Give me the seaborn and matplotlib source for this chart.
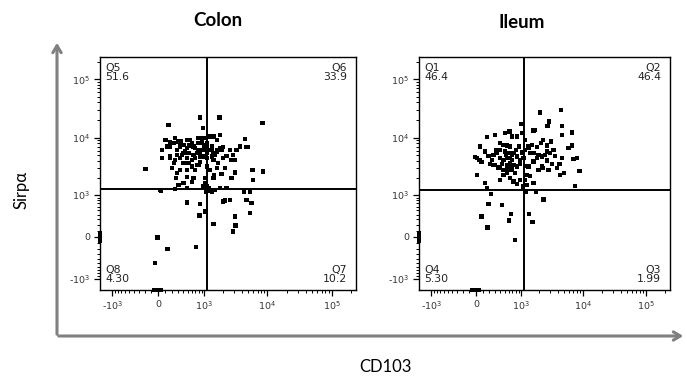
import numpy as np
import pandas as pd
import matplotlib
matplotlib.use("Agg")
import matplotlib.pyplot as plt
from matplotlib.patches import FancyArrowPatch
from matplotlib.ticker import FixedLocator, FixedFormatter
import seaborn as sns

# ---------------- data ----------------
colon_cd103 = [848,1760,8350,150,940,-192,8600,5850,6000,5300,
               3100,2920,3190,1410,825,1040,485,848,725,-10,
               135,-53,4330,5300,4720,5640,2160,2590,2030,28,
               258,1100,1330,1800,2300,1030,1410,1450,2750,1910,
               3100,2160,1600,1245,1100,794,693,485,346,275,
               412,485,605,649,316,287,203,240,176,287,
               412,485,605,745,848,1100,1330,1500,1690,2030,
               2300,2920,3290,3710,4430,4720,4990,2590,2030,1800,
               1600,1330,1170,1100,965,848,794,693,649,605,
               561,485,412,346,287,176,126,53,53,176,
               258,346,412,521,649,745,794,794,965,1100,
               1245,1410,1800,1600,1330,965,1100,848,693,605,
               521,447,380,316,258,229,101,176,905,990,
               630,540,485,360,1410,1600,1910,2750,3100,1410,
               965,1170,40,485,1030,1170,1330,1500,1065]
colon_sirpa = [22100,22100,17700,16600,14500,2900,2620,2800,1870,432,
               355,84,185,213,375,470,720,675,-167,-11,
               -196,-490,1160,1160,812,700,790,812,760,1245,
               1280,1420,1245,1330,1330,2000,2000,2290,2000,2380,
               2520,2990,2990,2800,3190,3410,2800,2800,2800,2000,
               1640,2090,1700,2000,1530,2450,2990,3650,4740,5070,
               5400,4440,4160,3410,3770,4440,4740,5070,3650,4440,
               4870,5070,6180,7040,9400,6850,6850,6180,6850,6600,
               5770,6180,6180,6850,6180,5770,6180,6600,7040,8050,
               9170,9170,7530,7040,6180,7040,7040,6180,4440,4440,
               4160,4440,3650,3650,5070,5400,8050,9800,9800,8050,
               10400,10400,11200,9170,7040,4740,5400,4740,4440,3190,
               5400,5770,5070,8570,9800,8050,9170,8200,8200,7300,
               7040,7300,6600,8570,4160,6180,6180,4160,4160,5400,
               1420,1330,1210,1330,1640,1210,1160,1245,1160]

ileum_cd103 = [2050,4400,2860,2690,1700,990,1018,618,506,298,
               157,56,131,-18,7,46,80,7,131,157,
               222,184,429,80,168,608,665,1355,1540,786,
               2320,1770,1210,3800,4300,4980,7450,8720,7920,7010,
               6600,5850,4570,6600,4570,1596,2260,2100,2620,3040,
               3360,1810,1500,1320,1160,1018,1088,953,837,685,
               590,506,394,328,268,239,298,380,429,466,
               548,685,734,837,953,1160,1320,1596,1810,2180,
               2470,2620,3160,3570,4200,4570,2790,2260,1924,1410,
               1160,1238,1060,837,734,636,548,466,360,268,
               211,394,530,618,734,817,905,636,548,466,
               394,328,184,685,837,1160,1320,1410,1596,1924,
               2620,2970,548,636,590,685,786,466,394,953,
               1238,1596,2180,590,636,685,548]
ileum_sirpa = [26900,30000,18800,15900,13600,17200,11900,12700,11900,11200,
               10200,7040,5770,4600,4440,4160,3770,2290,1640,1330,
               1050,675,653,355,150,275,417,405,245,-47,
               830,1160,1160,2990,2290,2450,1460,2690,4440,4290,
               7300,6600,11200,12300,15900,13300,9170,8050,7300,8570,
               6180,6850,7530,6600,6180,5550,4440,4160,4740,5070,
               5400,5770,6180,5400,5070,4160,3410,3100,3530,4160,
               4440,4160,3410,3190,3530,3280,3190,3900,4440,4740,
               5070,4020,3530,4870,3530,4440,2800,2990,2800,2200,
               1870,1530,1420,1590,1760,2000,2450,2800,2990,3410,
               3530,4440,5070,4440,5400,6180,7040,7040,7300,7530,
               8050,6180,4870,10400,10400,9170,7040,5400,5400,5070,
               5770,5400,3410,3650,2800,2800,2450,2290,1870,1870,
               2290,1640,3190,3190,2990,3280,2990]

# off-scale events piled on the axes (value on the other axis)
colon_left_sirpa = [-60, -30, 0, 30, 60]
colon_bottom_cd103 = [-60, -35, -10, 15, 40]
ileum_left_sirpa = [-60, -30, 0, 30, 60]
ileum_bottom_cd103 = [-60, -35, -10, 15, 40]

colon_gate = (1100, 1270)
ileum_gate = (1120, 1250)
colon_quads = [("Q5", "51.6"), ("Q6", "33.9"), ("Q8", "4.30"), ("Q7", "10.2")]
ileum_quads = [("Q1", "46.4"), ("Q2", "46.4"), ("Q4", "5.30"), ("Q3", "1.99")]

major_ticks = [-1000, 0, 1000, 10000, 100000]
major_labels = [r"-$10^3$", "0", r"$10^3$", r"$10^4$", r"$10^5$"]
minor_ticks = ([-v for v in range(100, 1000, 100)] + list(range(100, 1000, 100))
               + list(range(2000, 10000, 1000)) + list(range(20000, 100000, 10000))
               + [200000])

# ---------------- plotting ----------------
sns.set_theme(style="ticks")
plt.rcParams["font.family"] = ["DejaVu Sans"]
plt.rcParams["axes.unicode_minus"] = False

W = 400.0
def fwd(v):
    return np.arcsinh(np.asarray(v, dtype=float) / W) / np.log(10)
def inv(f):
    return W * np.sinh(np.asarray(f, dtype=float) * np.log(10))

LIM = (-1600, 240000)

fig = plt.figure(figsize=(6.87, 3.80), dpi=100)
axes = []

def panel(rect, xs, ys, left_ys, bottom_xs, gate, quads):
    ax = fig.add_axes(rect)
    ax.set_xscale("function", functions=(fwd, inv))
    ax.set_yscale("function", functions=(fwd, inv))
    df = pd.DataFrame({"CD103": xs, "Sirpa": ys})
    sns.scatterplot(data=df, x="CD103", y="Sirpa", ax=ax, marker="s", s=10,
                    color="black", edgecolor="none", linewidth=0, zorder=3)
    ax.scatter([LIM[0]] * len(left_ys), list(left_ys), marker="s", s=8,
               color="black", linewidths=0, clip_on=False, zorder=4)
    ax.scatter(list(bottom_xs), [LIM[0]] * len(bottom_xs), marker="s", s=8,
               color="black", linewidths=0, clip_on=False, zorder=4)
    ax.set_xlim(*LIM)
    ax.set_ylim(*LIM)
    ax.axvline(gate[0], color="black", lw=1.4, zorder=5)
    ax.axhline(gate[1], color="black", lw=1.4, zorder=5)
    for axis in (ax.xaxis, ax.yaxis):
        axis.set_major_locator(FixedLocator(major_ticks))
        axis.set_major_formatter(FixedFormatter(major_labels))
        axis.set_minor_locator(FixedLocator(minor_ticks))
    ax.tick_params(which="major", direction="out", length=4.5, width=0.9,
                   color="black", labelsize=6.8, labelcolor="#333333", pad=2.5)
    ax.tick_params(which="minor", direction="out", length=2.5, width=0.7,
                   color="black")
    for sp in ax.spines.values():
        sp.set_color("black")
        sp.set_linewidth(1.0)
    ax.set_xlabel("")
    ax.set_ylabel("")
    kw = dict(transform=ax.transAxes, fontsize=7.8, color="#222222", linespacing=0.95)
    ax.text(0.02, 0.975, quads[0][0] + "\n" + quads[0][1], ha="left", va="top", **kw)
    ax.text(0.965, 0.975, quads[1][0] + "\n" + quads[1][1], ha="right", va="top", **kw)
    ax.text(0.02, 0.025, quads[2][0] + "\n" + quads[2][1], ha="left", va="bottom", **kw)
    ax.text(0.965, 0.025, quads[3][0] + "\n" + quads[3][1], ha="right", va="bottom", **kw)
    axes.append(ax)
    return ax

panel([100/687, 1 - 290/380, 256/687, 233/380], colon_cd103, colon_sirpa,
      colon_left_sirpa, colon_bottom_cd103, colon_gate, colon_quads)
panel([419/687, 1 - 290/380, 251/687, 233/380], ileum_cd103, ileum_sirpa,
      ileum_left_sirpa, ileum_bottom_cd103, ileum_gate, ileum_quads)

# labels and arrows drawn in figure pixel coordinates
gray = "#808080"
def px(x, y):
    return (x / 687, 1 - y / 380)
astyle = "->,head_length=0.5,head_width=0.3"
fig.add_artist(FancyArrowPatch(px(57, 337), px(57, 40), transform=fig.transFigure,
                               arrowstyle=astyle, mutation_scale=10, color=gray, lw=2.2))
fig.add_artist(FancyArrowPatch(px(55.9, 336), px(686, 336), transform=fig.transFigure,
                               arrowstyle=astyle, mutation_scale=10, color=gray, lw=2.2))

lab_font = ["Lato", "DejaVu Sans"]
fig.text(*px(22, 190), "Sirpα", rotation=90, ha="center", va="center",
         fontsize=12, family=lab_font, color="black")
fig.text(*px(385, 367), "CD103", ha="center", va="center",
         fontsize=12, family=lab_font, color="black")
fig.text(*px(218, 20), "Colon", ha="center", va="center", fontsize=13.5,
         fontweight="bold", family=lab_font, color="black")
fig.text(*px(522, 22), "Ileum", ha="center", va="center", fontsize=13.5,
         fontweight="bold", family=lab_font, color="black")

# make sure tick marks are on (bottom/left only)
for ax in axes:
    ax.tick_params(which="both", bottom=True, left=True, top=False, right=False)
    ax.tick_params(which="major", length=4.5, width=0.9, color="black")
    ax.tick_params(which="minor", length=2.5, width=0.7, color="black")

fig.savefig("out.png", dpi=100)
